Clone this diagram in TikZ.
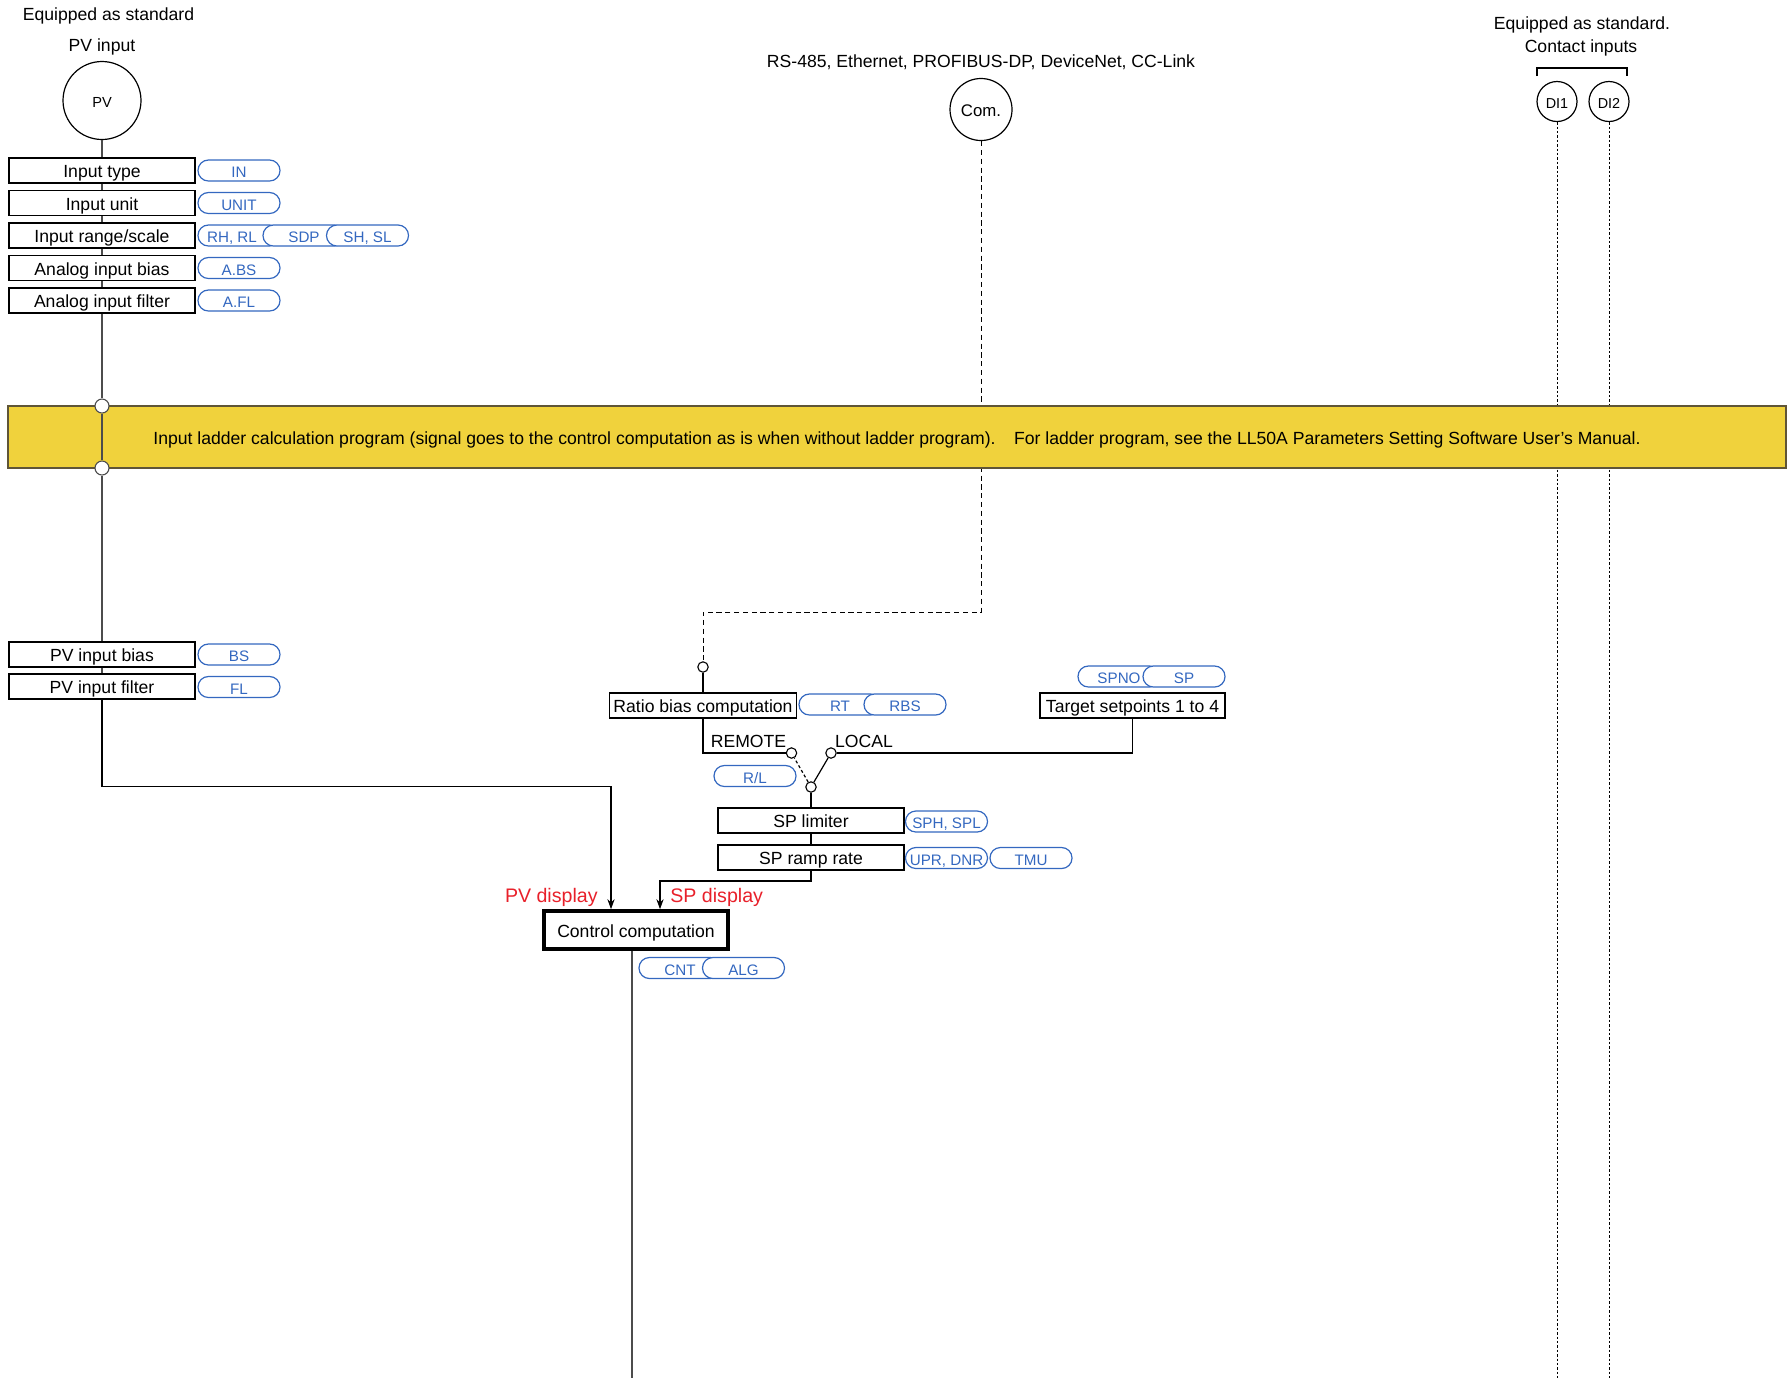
\documentclass[tikz,border=0pt]{standalone}
\usepackage{fontspec}
\setmainfont{Liberation Sans}
\usetikzlibrary{arrows.meta}
\definecolor{pillblue}{RGB}{52,104,192}
\definecolor{baryellow}{RGB}{240,210,60}
\definecolor{barline}{RGB}{95,85,55}
\definecolor{ered}{RGB}{232,32,42}
\begin{document}
\begin{tikzpicture}[x=0.5pt,y=-0.5pt,
 ctext/.style={text height=0.7em,text depth=0pt},
 box/.style={ctext,draw=black,line width=0.65pt,fill=white,minimum width=93pt,minimum height=12.5pt,inner sep=0pt,font=\fontsize{8.8pt}{10pt}\selectfont},
 pill/.style={ctext,draw=pillblue,line width=0.6pt,fill=white,rounded corners=5.2pt,minimum width=41pt,minimum height=10.5pt,inner sep=0pt,text=pillblue,font=\fontsize{7.6pt}{9pt}\selectfont},
 circ/.style={ctext,circle,draw=black,line width=0.6pt,fill=white,inner sep=0pt},
 smalldot/.style={circle,draw=black,line width=0.55pt,fill=white,inner sep=0pt,minimum size=5.2pt},
 junction/.style={circle,draw=black!70,line width=0.55pt,fill=white,inner sep=0pt,minimum size=7pt},
 lbl/.style={ctext,inner sep=0pt,font=\fontsize{8.8pt}{10pt}\selectfont},
 redlbl/.style={ctext,inner sep=0pt,text=ered,font=\fontsize{9.8pt}{11pt}\selectfont},
 wire/.style={draw=black!70,line width=0.6pt},
 blackwire/.style={draw=black,line width=0.6pt},
 comdash/.style={draw=black,line width=0.5pt,dash pattern=on 2.6pt off 1.8pt},
 didot/.style={draw=black,line width=0.5pt,dash pattern=on 1.2pt off 1pt},
 arr/.style={-{Stealth[length=5pt,width=3.6pt]}}
]
\useasboundingbox (0,0) rectangle (1791,1378);

% header texts
\node[lbl] (hdr1) at (108.5,13) {Equipped as standard};
\node[lbl] (hdr2) at (102,44) {PV input};
\node[lbl] (hdr3) at (981,60) {RS-485, Ethernet, PROFIBUS-DP, DeviceNet, CC-Link};
\node[lbl] (hdr4) at (1582,22.5) {Equipped as standard.};
\node[lbl] (hdr5) at (1581,45.5) {Contact inputs};
\draw[blackwire] (1537,76) -- (1537,68) -- (1627,68) -- (1627,76);

% input circles
\node[circ,minimum size=39pt,font=\fontsize{7.3pt}{9pt}\selectfont] (pv) at (102,100.5) {PV};
\node[circ,minimum size=31pt,font=\fontsize{8.4pt}{10pt}\selectfont] (com) at (981,109.5) {Com.};
\node[circ,minimum size=20pt,font=\fontsize{7.2pt}{9pt}\selectfont] (di1) at (1557,101.5) {DI1};
\node[circ,minimum size=20pt,font=\fontsize{7.2pt}{9pt}\selectfont] (di2) at (1609,101.5) {DI2};

% lines behind the bar
\coordinate (di1end) at (1557,1378);
\coordinate (di2end) at (1609,1378);
\draw[didot] (di1.south) -- (di1end);
\draw[didot] (di2.south) -- (di2end);
\node[smalldot] (rbin) at (703,667) {};
\coordinate (comturn) at (703,612);
\draw[comdash] (com.south) |- (comturn) -- (rbin.north);

% ladder bar
\node[ctext,draw=barline,line width=0.6pt,fill=baryellow,minimum width=889pt,minimum height=31pt,inner sep=0pt,font=\fontsize{8.8pt}{10pt}\selectfont] (bar) at (897,437)
 {Input ladder calculation program (signal goes to the control computation as is when without ladder program).\hspace{6pt} For ladder program, see the LL50A Parameters Setting Software User’s Manual.};

% PV input chain
\node[box] (intype) at (102,170.5) {Input type};
\node[box] (inunit) at (102,203) {Input unit};
\node[box] (inrange) at (102,235.5) {Input range/scale};
\node[box] (abias) at (102,268) {Analog input bias};
\node[box] (afilt) at (102,300.5) {Analog input filter};
\node[pill] (pIN) at (239,170.5) {IN};
\node[pill] (pUNIT) at (239,203) {UNIT};
\node[pill] (pRH) at (239,235.5) {RH, RL\kern 7pt\relax};
\node[pill] (pSDP) at (304,235.5) {SDP};
\node[pill] (pSH) at (367.5,235.5) {SH, SL};
\node[pill] (pABS) at (239,268) {A.BS};
\node[pill] (pAFL) at (239,300.5) {A.FL};
\draw[wire] (pv) -- (intype);
\draw[wire] (intype) -- (inunit);
\draw[wire] (inunit) -- (inrange);
\draw[wire] (inrange) -- (abias);
\draw[wire] (abias) -- (afilt);

\node[junction] (j1) at (102,406) {};
\node[junction] (j2) at (102,468) {};
\draw[wire] (afilt) -- (j1);
\draw[wire] (j1) -- (j2);

\node[box] (pvbias) at (102,654.5) {PV input bias};
\node[box] (pvfilt) at (102,686.5) {PV input filter};
\node[pill] (pBS) at (239,654.5) {BS};
\node[pill] (pFL) at (239,687) {FL};
\draw[wire] (j2) -- (pvbias);
\draw[wire] (pvbias) -- (pvfilt);

% remote / local
\node[box,minimum width=93.25pt] (ratio) at (703,705.5) {Ratio bias computation};
\node[pill] (pRT) at (840,704.5) {RT};
\node[pill] (pRBS) at (905,704.5) {RBS};
\node[box,minimum width=92.5pt] (target) at (1132.5,705.5) {Target setpoints 1 to 4};
\node[pill] (pSPNO) at (1119,676.5) {SPNO};
\node[pill] (pSP) at (1184,676.5) {SP};
\draw[blackwire] (rbin) -- (ratio);

\node[smalldot] (rem) at (791.5,753) {};
\node[smalldot] (loc) at (831,753) {};
\node[smalldot] (cmn) at (811,787) {};
\node[lbl] (remlbl) at (748.5,740) {REMOTE};
\node[lbl] (loclbl) at (864,740) {LOCAL};
\node[pill] (pRL) at (755,776) {R/L};
\draw[blackwire] (ratio.south) |- (rem.west);
\draw[blackwire] (loc.east) -| (target.south);
\draw[blackwire] (cmn) -- (loc);
\draw[blackwire,dash pattern=on 1.5pt off 1.2pt] (cmn) -- (rem);

\node[box] (splim) at (811,820.5) {SP limiter};
\node[box] (spramp) at (811,857.5) {SP ramp rate};
\node[pill] (pSPH) at (946.5,821.5) {SPH, SPL};
\node[pill] (pUPR) at (946.5,858) {UPR, DNR};
\node[pill] (pTMU) at (1031,858) {TMU};
\draw[blackwire] (cmn) -- (splim);
\draw[blackwire] (splim) -- (spramp);

% control computation
\node[ctext,draw=black,line width=2pt,fill=white,minimum width=92.3pt,minimum height=18.8pt,inner sep=0pt,font=\fontsize{8.8pt}{10pt}\selectfont] (ctrl) at (636,930) {Control computation};
\node[pill] (pCNT) at (680,968) {CNT};
\node[pill] (pALG) at (743.5,968) {ALG};

\coordinate (pvturn) at (611,786.5);
\coordinate (spturn) at (660,881);
\draw[blackwire,arr] (pvfilt.south) |- (pvturn) -- (pvturn |- ctrl.north);
\draw[blackwire,arr] (spramp.south) |- (spturn) -- (spturn |- ctrl.north);
\node[redlbl,anchor=east] (pvdisp) at (598,895) {PV display};
\node[redlbl,anchor=west] (spdisp) at (670,895) {SP display};

\coordinate (ctrlend) at (632,1378);
\draw[wire] (ctrlend |- ctrl.south) -- (ctrlend);
\end{tikzpicture}
\end{document}
